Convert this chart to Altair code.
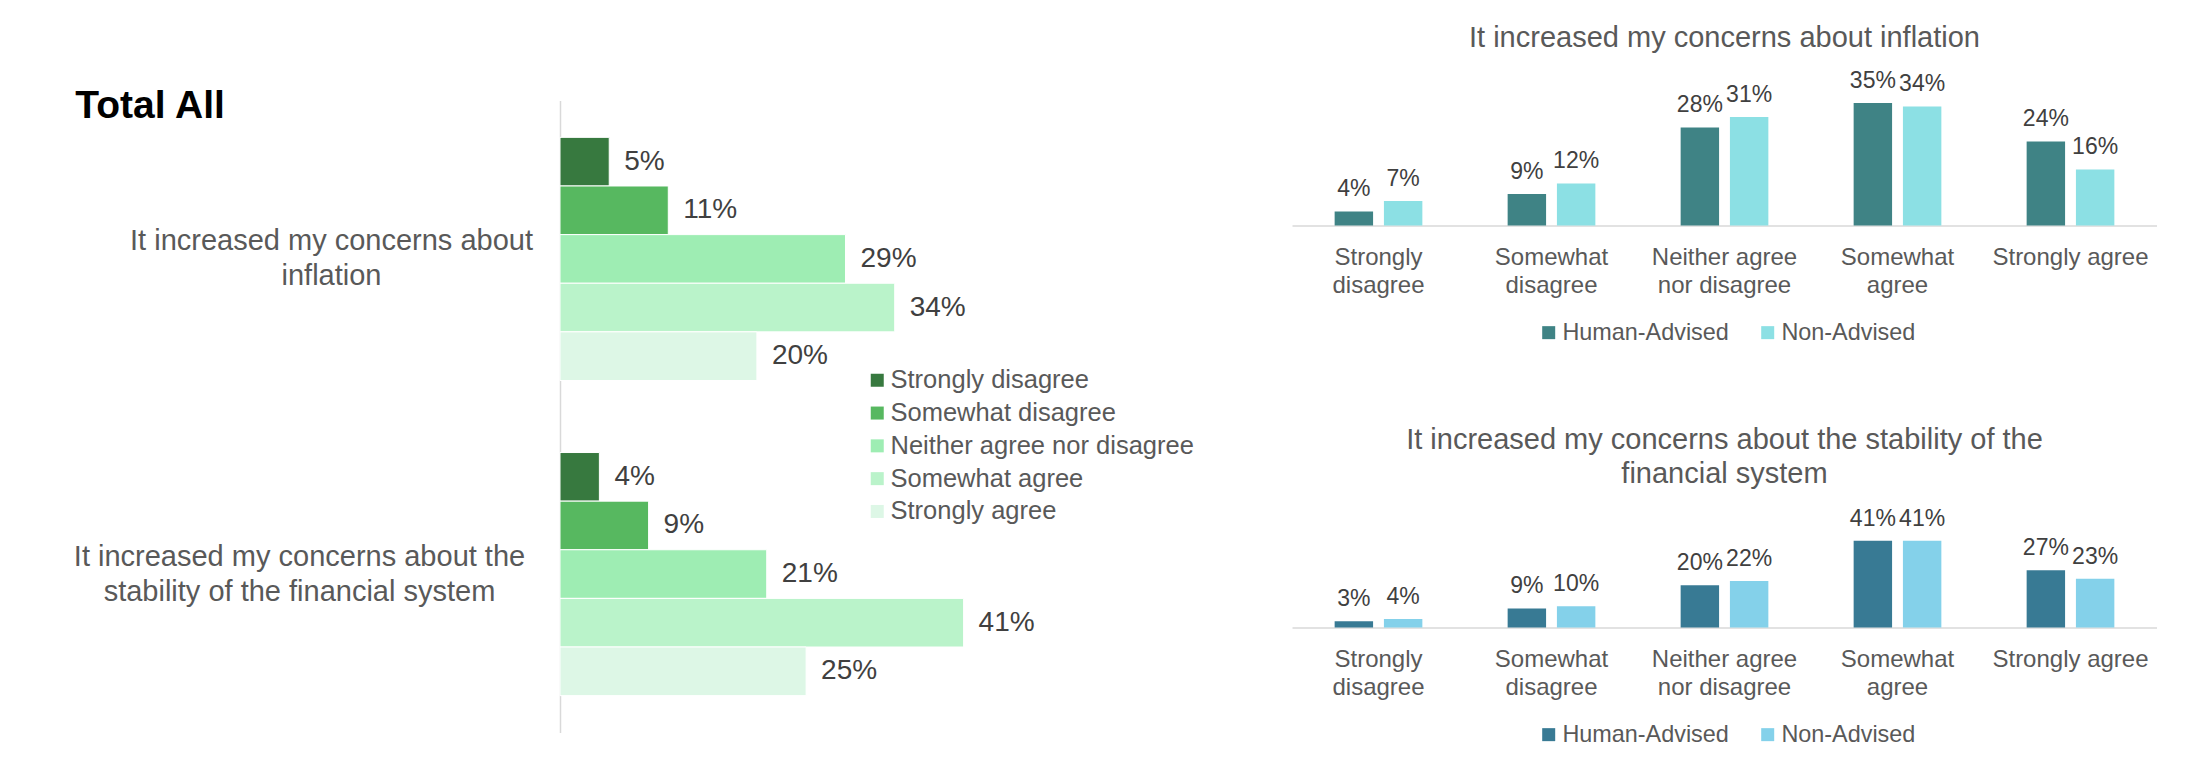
import json
import altair as alt
import pandas as pd

# ---------------- data ----------------
RESPONSES = ["Strongly disagree", "Somewhat disagree", "Neither agree nor disagree",
             "Somewhat agree", "Strongly agree"]
RESPONSE_LINES = [["Strongly", "disagree"], ["Somewhat", "disagree"],
                  ["Neither agree", "nor disagree"], ["Somewhat", "agree"], ["Strongly agree"]]
QUESTIONS = ["It increased my concerns about inflation",
             "It increased my concerns about the stability of the financial system"]
QUESTION_LINES = [["It increased my concerns about", "inflation"],
                  ["It increased my concerns about the", "stability of the financial system"]]
TOTAL_INFLATION = [5, 11, 29, 34, 20]
TOTAL_STABILITY = [4, 9, 21, 41, 25]

GROUPS = ["Human-Advised", "Non-Advised"]
HUMAN_INFLATION = [4, 9, 28, 35, 24]
NON_INFLATION = [7, 12, 31, 34, 16]
HUMAN_STABILITY = [3, 9, 20, 41, 27]
NON_STABILITY = [4, 10, 22, 41, 23]

TITLE_LEFT = "Total All"
TITLE_TOP = "It increased my concerns about inflation"
TITLE_BOTTOM = ["It increased my concerns about the stability of the", "financial system"]

GREENS = ["#37793F", "#57B860", "#9EEDB3", "#BAF3CA", "#DDF7E6"]
TEAL_TOP = ["#3F8385", "#8CE0E4"]
TEAL_BOTTOM = ["#387A94", "#84D1EA"]

FONT = "Liberation Sans"
GRAY = "#595959"
DARK = "#404040"
AXIS_GRAY = "#D9D9D9"


def lines_expr(keys, lines):
    expr = json.dumps(lines[-1])
    for k, l in reversed(list(zip(keys[:-1], lines[:-1]))):
        expr = f"datum.value == {json.dumps(k)} ? {json.dumps(l)} : ({expr})"
    return expr


# ---------------- left: Total All ----------------
total_df = pd.DataFrame({
    "question": [q for q in QUESTIONS for _ in RESPONSES],
    "response": RESPONSES * len(QUESTIONS),
    "value": TOTAL_INFLATION + TOTAL_STABILITY,
})

left_base = alt.Chart(total_df).transform_calculate(
    label="datum.value + '%'"
).encode(
    y=alt.Y("question:N", sort=QUESTIONS,
            scale=alt.Scale(paddingInner=0.2286, paddingOuter=0.117),
            axis=alt.Axis(title=None, labelExpr=lines_expr(QUESTIONS, QUESTION_LINES),
                          labelAlign="center",
                          labelPadding={"condition": {"test": f"datum.value == {json.dumps(QUESTIONS[0])}",
                                                      "value": 229}, "value": 261},
                          labelOffset=-17.5,
                          labelFontSize=29, labelColor=GRAY, labelFont=FONT,
                          labelLineHeight=35, labelLimit=0, labelBaseline="middle",
                          ticks=False, tickSize=0, grid=False,
                          domainColor=AXIS_GRAY, domainWidth=1.5)),
    yOffset=alt.YOffset("response:N", sort=RESPONSES,
                        scale=alt.Scale(paddingInner=0, paddingOuter=0)),
    x=alt.X("value:Q", scale=alt.Scale(domain=[0, 45], nice=False), axis=None),
)

left_bars = left_base.mark_bar(stroke="white", strokeWidth=1).encode(
    color=alt.Color("response:N", sort=RESPONSES,
                    scale=alt.Scale(domain=RESPONSES, range=GREENS),
                    legend=alt.Legend(title=None, orient="none", legendX=304.5, legendY=267,
                                      direction="vertical", symbolType="square",
                                      symbolSize=169, symbolStrokeWidth=0, symbolOpacity=1,
                                      labelFontSize=25.5, labelColor=GRAY, labelFont=FONT,
                                      labelOffset=0.5, rowPadding=5.8, labelLimit=0, padding=0))
)
left_text = left_base.mark_text(align="left", baseline="middle", dx=15, fontSize=28,
                                color=DARK, font=FONT).encode(text="label:N")

left = alt.layer(left_bars, left_text).properties(
    width=443, height=632,
    title=alt.TitleParams(TITLE_LEFT, anchor="start", frame="bounds", fontSize=39,
                          fontWeight="bold", color="black", font=FONT,
                          baseline="alphabetic", offset=0, dy=56, dx=2),
)


# ---------------- right: grouped bars ----------------
def group_chart(title, human, non, colors, ymax, height, legend_y, title_offset):
    df = pd.DataFrame({
        "response": RESPONSES * 2,
        "group": [GROUPS[0]] * len(RESPONSES) + [GROUPS[1]] * len(RESPONSES),
        "value": human + non,
    })
    base = alt.Chart(df).transform_calculate(
        label="datum.value + '%'"
    ).encode(
        x=alt.X("response:N", sort=RESPONSES,
                scale=alt.Scale(paddingInner=0.493, paddingOuter=0.2465),
                axis=alt.Axis(title=None, labelExpr=lines_expr(RESPONSES, RESPONSE_LINES),
                              labelAngle=0, labelFontSize=24, labelColor=GRAY, labelFont=FONT,
                              labelLineHeight=28, labelPadding=20, labelLimit=0,
                              labelBaseline="top", ticks=False, tickSize=0, grid=False,
                              domainColor=AXIS_GRAY, domainWidth=1.5)),
        xOffset=alt.XOffset("group:N", sort=GROUPS,
                            scale=alt.Scale(paddingInner=0.22, paddingOuter=0)),
        y=alt.Y("value:Q", scale=alt.Scale(domain=[0, ymax], nice=False, zero=True), axis=None),
    )
    bars = base.mark_bar().encode(
        color=alt.Color("group:N", sort=GROUPS,
                        scale=alt.Scale(domain=GROUPS, range=colors),
                        legend=alt.Legend(title=None, orient="none", legendX=245, legendY=legend_y,
                                          direction="horizontal", symbolType="square",
                                          symbolSize=169, symbolStrokeWidth=0, symbolOpacity=1,
                                          labelFontSize=23.4, labelColor=GRAY, labelFont=FONT,
                                          labelOffset=2, columnPadding=27, labelLimit=0,
                                          padding=0))
    )
    labels = base.mark_text(baseline="alphabetic", dy=-15, fontSize=23, color=DARK,
                            font=FONT).encode(text="label:N")
    return alt.layer(bars, labels).properties(
        width=865, height=height,
        title=alt.TitleParams(title, anchor="middle", frame="group", fontSize=29,
                              fontWeight="normal", color=GRAY, font=FONT,
                              lineHeight=34, offset=title_offset),
    )


top = group_chart(TITLE_TOP, HUMAN_INFLATION, NON_INFLATION, TEAL_TOP,
                  35.7, 125, 220, 17)
bottom = group_chart(TITLE_BOTTOM, HUMAN_STABILITY, NON_STABILITY, TEAL_BOTTOM,
                     47.2, 100, 195, 19)

right = alt.vconcat(top, bottom, spacing=302, bounds="flush").resolve_scale(color="independent")

chart = alt.hconcat(left, right, spacing=289, bounds="flush").resolve_scale(
    color="independent"
).properties(
    padding={"left": 73, "top": 23.5, "right": 0, "bottom": 0}
).configure(font=FONT).configure_view(stroke=None)

chart.save("out.html", embed_options={"renderer": "svg", "actions": False})
